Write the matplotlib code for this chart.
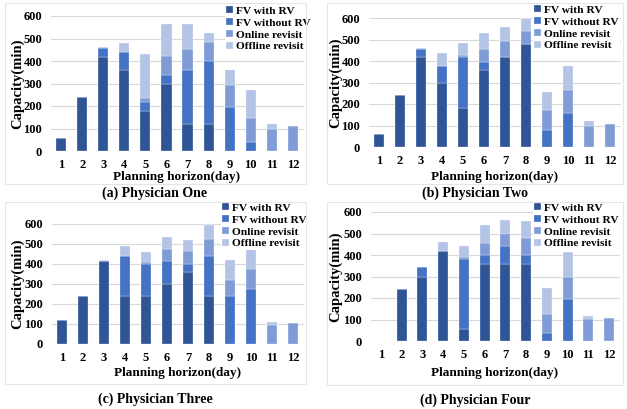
import numpy as np
import matplotlib
matplotlib.use("Agg")
import matplotlib.pyplot as plt
from matplotlib.patches import Rectangle

plt.rcParams['font.family'] = ['Liberation Serif', 'DejaVu Serif']
plt.rcParams['font.weight'] = 'bold'

W, H = 627, 409

days = [str(d) for d in range(1, 13)]
series_names = ["FV with RV", "FV without RV", "Online revisit", "Offline revisit"]
colors = ["#2F5597", "#4472C4", "#7F9CD7", "#B4C4E6"]

# Physician One
fv_rv_a = [60, 240, 420, 360, 180, 300, 120, 120, 0, 0, 0, 0]
fv_norv_a = [0, 0, 40, 80, 40, 40, 238, 278, 197, 38, 0, 0]
online_a = [0, 0, 0, 2, 15, 83, 97, 85, 98, 110, 98, 113]
offline_a = [0, 0, 4, 36, 195, 142, 108, 42, 63, 122, 20, 0]

# Physician Two
fv_rv_b = [60, 240, 420, 300, 180, 360, 420, 480, 0, 0, 0, 0]
fv_norv_b = [0, 0, 38, 78, 240, 37, 0, 0, 80, 157, 0, 0]
online_b = [0, 0, 0, 0, 8, 58, 73, 60, 92, 106, 98, 105]
offline_b = [0, 0, 4, 57, 55, 75, 65, 55, 86, 115, 24, 0]

# Physician Three
fv_rv_c = [120, 240, 415, 238, 238, 302, 358, 238, 0, 0, 0, 0]
fv_norv_c = [0, 0, 0, 202, 160, 113, 40, 202, 238, 277, 0, 0]
online_c = [0, 0, 0, 0, 10, 60, 67, 83, 82, 98, 93, 103]
offline_c = [0, 0, 5, 50, 52, 60, 57, 74, 102, 105, 17, 0]

# Physician Four
fv_rv_d = [0, 240, 297, 418, 57, 357, 357, 357, 0, 0, 0, 0]
fv_norv_d = [0, 0, 45, 0, 323, 41, 83, 41, 37, 197, 0, 0]
online_d = [0, 0, 0, 2, 10, 60, 60, 82, 90, 101, 103, 106]
offline_d = [0, 0, 0, 42, 50, 82, 65, 78, 121, 117, 12, 0]

captions = ["(a) Physician One", "(b) Physician Two",
            "(c) Physician Three", "(d) Physician Four"]

fig = plt.figure(figsize=(W / 100, H / 100), dpi=100)


def px_rect(x0, y0, x1, y1):
    # pixel box (top-left origin) -> figure fraction [l, b, w, h]
    return [x0 / W, 1 - y1 / H, (x1 - x0) / W, (y1 - y0) / H]


panels = [
    dict(data=[fv_rv_a, fv_norv_a, online_a, offline_a],
         ax=(50.5, 16, 303.5, 151), box=(5, 3, 306, 184), cap=(155, 193),
         leg=(225, 5), ylab=18, xlab=177),
    dict(data=[fv_rv_b, fv_norv_b, online_b, offline_b],
         ax=(368.5, 18, 620.5, 147), box=(327, 3, 623, 184), cap=(475, 193),
         leg=(533, 4), ylab=336, xlab=177),
    dict(data=[fv_rv_c, fv_norv_c, online_c, offline_c],
         ax=(51.5, 224, 303.5, 344), box=(5, 202, 306, 384), cap=(155, 399),
         leg=(221, 202), ylab=18, xlab=373),
    dict(data=[fv_rv_d, fv_norv_d, online_d, offline_d],
         ax=(370.5, 212, 619.5, 341), box=(327, 202, 623, 385), cap=(475, 400),
         leg=(533, 202), ylab=336, xlab=373),
]

x = np.arange(1, 13)
for i, p in enumerate(panels):
    # light frame around each chart
    bx0, by0, bx1, by1 = p["box"]
    fig.patches.append(Rectangle((bx0 / W, 1 - by1 / H), (bx1 - bx0) / W, (by1 - by0) / H,
                                 transform=fig.transFigure, fill=False,
                                 edgecolor="#E6E6E6", linewidth=0.8, zorder=0))

    ax = fig.add_axes(px_rect(*p["ax"]))
    ax.patch.set_alpha(0)
    bottom = np.zeros(12)
    for vals, name, c in zip(p["data"], series_names, colors):
        ax.bar(x, vals, width=0.48, bottom=bottom, color=c, label=name,
               edgecolor="#FFFFFF", linewidth=0.2, zorder=3)
        bottom += np.array(vals)

    ax.set_xlim(0.5, 12.5)
    ax.set_ylim(0, 600)
    ax.set_yticks(range(0, 601, 100))
    ax.set_xticks(x)
    ax.set_xticklabels(days)
    ax.grid(axis="y", color="#D9D9D9", linewidth=0.8, zorder=0)
    for s in ax.spines.values():
        s.set_visible(False)
    ax.tick_params(length=0, labelsize=9, pad=6)
    for t in ax.get_xticklabels() + ax.get_yticklabels():
        t.set_fontweight("bold")

    ax0 = p["ax"]
    fig.text(p["ylab"] / W, 1 - ((ax0[1] + ax0[3]) / 2) / H, "Capacity(min)",
             rotation=90, ha="center", va="center", fontsize=10.5, fontweight="bold")
    fig.text(((ax0[0] + ax0[2]) / 2) / W, 1 - p["xlab"] / H, "Planning horizon(day)",
             ha="center", va="center", fontsize=9.5, fontweight="bold")
    fig.text(p["cap"][0] / W, 1 - p["cap"][1] / H, captions[i],
             ha="center", va="center", fontsize=10, fontweight="bold")

    lx, ly = p["leg"]
    leg = ax.legend(loc="upper left", bbox_to_anchor=(lx / W, 1 - ly / H),
                    bbox_transform=fig.transFigure, fontsize=8.2, frameon=True,
                    facecolor="white", edgecolor="none", framealpha=1,
                    handlelength=0.6, handleheight=0.6, handletextpad=0.3,
                    labelspacing=0.2, borderpad=0.1, borderaxespad=0)
    leg.set_zorder(10)
    for t in leg.get_texts():
        t.set_fontweight("bold")

fig.savefig("out.png", dpi=100)
